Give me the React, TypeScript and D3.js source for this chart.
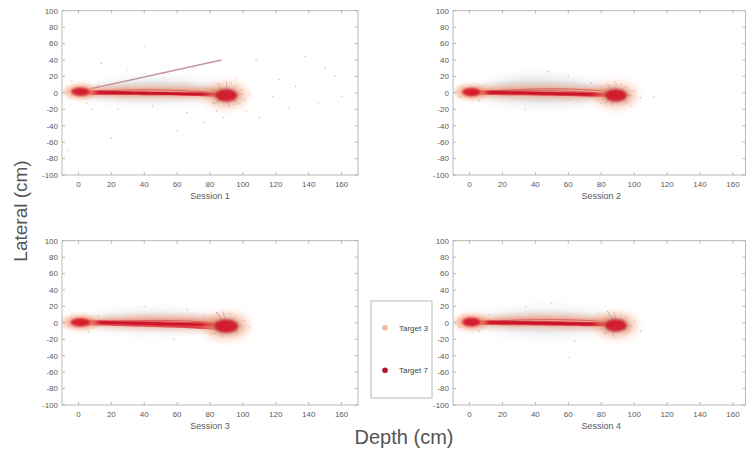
import React from "react";
import * as d3 from "d3";

const W = 746;
const H = 454;

const sessions = ["Session 1", "Session 2", "Session 3", "Session 4"];
const xTicks = [0, 20, 40, 60, 80, 100, 120, 140, 160];
const yTicks = [100, 80, 60, 40, 20, 0, -20, -40, -60, -80, -100];
const targets = ["Target 3", "Target 7"];
const targetColors = ["#f2b6a2", "#b3132d"];

// depth samples (cm) for the trajectory envelopes
const depthGrid = [0, 10, 20, 30, 40, 50, 60, 70, 80, 88];

// gray cloud (other trajectories), lateral bounds per session
const grayUpper = [
  [3, 9, 14, 17, 19, 19, 18, 15, 11, 5],
  [4, 11, 17, 21, 22, 21, 19, 16, 11, 6],
  [3, 9, 13, 16, 17, 17, 16, 14, 11, 5],
  [4, 10, 15, 18, 20, 20, 19, 16, 12, 6],
];
const grayLower = [
  [-3, -7, -10, -12, -13, -13, -12, -10, -8, -5],
  [-3, -8, -12, -15, -17, -17, -16, -13, -10, -6],
  [-3, -7, -10, -12, -13, -13, -12, -11, -9, -6],
  [-3, -9, -13, -16, -18, -18, -17, -15, -11, -6],
];

// Target 3 cloud (salmon)
const salmonUpper = [
  [5, 7, 9, 10, 10, 10, 10, 9, 8, 6],
  [5, 8, 10, 11, 11, 11, 10, 9, 8, 6],
  [5, 7, 9, 10, 11, 11, 11, 10, 9, 7],
  [5, 8, 10, 11, 12, 12, 11, 10, 9, 7],
];
const salmonLower = [
  [-4, -6, -7, -8, -8, -8, -8, -8, -8, -8],
  [-4, -6, -7, -8, -8, -9, -9, -9, -9, -8],
  [-4, -6, -7, -8, -9, -9, -10, -10, -11, -10],
  [-4, -6, -7, -8, -8, -9, -9, -9, -9, -8],
];

// Target 7 core band (dark red)
const redUpper = [
  [4, 3, 2.5, 2, 1.6, 1.2, 0.8, 0.4, 0, -0.5],
  [4, 3, 2.6, 2.2, 1.8, 1.4, 1, 0.6, 0.2, 0],
  [4.5, 3.4, 3, 2.6, 2.2, 1.8, 1.4, 1, 0.6, 0.4],
  [4, 3, 2.6, 2.2, 1.9, 1.6, 1.3, 1, 0.7, 0.5],
];
const redLower = [
  [-3, -2.5, -2.5, -2.6, -2.8, -3, -3.3, -3.6, -4, -4.5],
  [-3, -2.6, -2.8, -3, -3.3, -3.6, -4, -4.3, -4.7, -5],
  [-3.5, -3.2, -3.6, -4.2, -4.8, -5.4, -6, -6.8, -8, -8.5],
  [-3, -2.6, -2.8, -3, -3.2, -3.5, -3.8, -4.1, -4.4, -4.5],
];
const redMean = [
  [1, 0.6, 0.3, 0, -0.3, -0.6, -0.9, -1.2, -1.6, -2],
  [1, 0.6, 0.3, 0, -0.4, -0.8, -1.1, -1.5, -1.9, -2.2],
  [1, 0.4, 0, -0.4, -0.8, -1.2, -1.6, -2, -2.5, -3],
  [1, 0.6, 0.3, 0, -0.3, -0.6, -0.9, -1.2, -1.5, -1.8],
];

// start / end clusters: [depth, lateral, spreadDepth, spreadLateral]
const startCluster = [
  [1, 1.5, 5.5, 5],
  [1, 1, 5.5, 5],
  [1, 0.5, 6, 5],
  [1, 1, 5.5, 5.5],
];
const endCluster = [
  [90, -3, 6.5, 7.5],
  [89, -3, 6.5, 7.5],
  [90, -4, 7, 8],
  [89, -3, 6.5, 7.5],
];

// single outlying trajectory in session 1
const outlierDepth = [3, 87];
const outlierLateral = [3, 40];

// faint single samples scattered around the clouds
const specks: [number, number][][] = [
  [[5, -12], [12, 9], [-5, -6], [86, 11], [95, -14], [82, -12], [99, 4], [101, -8], [93, 12], [78, 6], [104, -2],
   [20, -55], [60, -46], [45, -16], [30, 28], [70, 30], [118, -4], [132, 8], [146, -12], [156, 20], [110, -30],
   [40, 56], [-6, -70], [88, -30], [102, -22], [24, -20], [66, -24], [150, 30], [138, 44], [84, -22], [96, 18],
   [-4, 14], [8, -20], [52, 24], [122, 16], [160, -4], [76, -36], [14, 36], [108, 40], [128, -18]],
  [[-4, 8], [6, -10], [84, 10], [95, -13], [100, 2], [92, 10], [80, -12], [104, -6], [112, -5], [98, -16],
   [88, 14], [74, 12], [34, -20], [60, 20], [48, 26], [-6, -5], [10, 10]],
  [[-4, 7], [6, -11], [84, 12], [96, -12], [101, 3], [92, 11], [80, -14], [104, -5], [88, -16], [76, 10],
   [40, 20], [58, -20], [-6, -4], [12, 9], [66, 16]],
  [[-4, 9], [6, -10], [84, 14], [95, -12], [100, 3], [92, 10], [82, -13], [104, -10], [88, -18], [78, 12],
   [50, 24], [64, -22], [-6, -5], [12, 10], [60, -42], [34, 20]],
];

// short spikes radiating from the end clusters: [depth, lateral]
const endSpikes: [number, number][][] = [
  [[84, 12], [96, 10], [82, -14], [98, -14], [90, 14], [100, -2], [80, 4], [92, -18]],
  [[84, 10], [95, 8], [82, -13], [97, -12], [89, 12], [99, -3], [86, -16]],
  [[84, 13], [96, 8], [82, -14], [98, -12], [88, 14], [100, -4], [86, -16]],
  [[84, 14], [96, 9], [82, -13], [98, -11], [88, 13], [99, -4], [87, -17]],
];

// hand-traced individual red trajectories (fan near the end)
const fanDepth = [0, 20, 40, 60, 80, 88];
const fanLateral = [
  [[1, 1, 0, -1, -3, -4], [1, 0, -1, -2, -4, -5], [1, 3, 4, 3, 1, -1]],
  [[1, 2, 3, 2, 0, -2], [1, 0, -1, -3, -4, -5], [1, 3, 5, 5, 3, 0]],
  [[1, 0, -2, -4, -7, -9], [1, 1, 0, -1, -3, -5], [1, 2, 3, 3, 1, -1]],
  [[1, 2, 2, 1, -1, -3], [1, 0, -1, -2, -3, -4], [1, 3, 4, 4, 2, 0]],
];

const panelBoxes = [
  { x0: 62, x1: 358, y0: 10.7, y1: 175, dmax: 170 },
  { x0: 453, x1: 745.5, y0: 10.7, y1: 175, dmax: 167.6 },
  { x0: 62, x1: 358, y0: 240.7, y1: 405, dmax: 170 },
  { x0: 453, x1: 745.5, y0: 240.7, y1: 405, dmax: 167.6 },
];

const FONT = "'Liberation Sans', Arial, Helvetica, sans-serif";
const AXIS = "#a8a8a8";
const LABEL = "#5a5a5a";

function Panel({ i }: { i: number }) {
  const b = panelBoxes[i];
  const x = d3.scaleLinear().domain([-10, b.dmax]).range([b.x0, b.x1]);
  const y = d3.scaleLinear().domain([-100, 100]).range([b.y1, b.y0]);
  const band = (up: number[], lo: number[]) =>
    d3
      .area<number>()
      .x((_, k) => x(depthGrid[k]))
      .y0((_, k) => y(lo[k]))
      .y1((_, k) => y(up[k]))
      .curve(d3.curveBasis)(depthGrid) || "";
  const shrink = (up: number[], lo: number[], f: number) => {
    const mid = up.map((u, k) => (u + lo[k]) / 2);
    return [up.map((u, k) => mid[k] + (u - mid[k]) * f), lo.map((l, k) => mid[k] + (l - mid[k]) * f)];
  };
  const line = d3
    .line<number>()
    .x((_, k) => x(depthGrid[k]))
    .y((d) => y(d))
    .curve(d3.curveBasis);
  const fanLine = d3
    .line<number>()
    .x((_, k) => x(fanDepth[k]))
    .y((d) => y(d))
    .curve(d3.curveBasis);
  const [gU2, gL2] = shrink(grayUpper[i], grayLower[i], 0.6);
  const [sU2, sL2] = shrink(salmonUpper[i], salmonLower[i], 0.55);
  const sx = (v: number) => Math.abs(x(v) - x(0));
  const sy = (v: number) => Math.abs(y(v) - y(0));
  const sc = startCluster[i];
  const ec = endCluster[i];
  const clipId = `clip${i}`;
  const grayTint = i === 1 ? "#7a7f86" : i === 0 ? "#8a8f96" : "#9aa8ba";
  return (
    <g>
      <defs>
        <clipPath id={clipId}>
          <rect x={b.x0} y={b.y0} width={b.x1 - b.x0} height={b.y1 - b.y0} />
        </clipPath>
      </defs>
      <rect x={b.x0} y={b.y0} width={b.x1 - b.x0} height={b.y1 - b.y0} fill="#fff" />
      <g clipPath={`url(#${clipId})`}>
        {/* gray cloud */}
        <path d={band(grayUpper[i], grayLower[i])} fill={grayTint} opacity={0.15} filter="url(#blur3)" />
        <path d={band(gU2, gL2)} fill={grayTint} opacity={0.15} filter="url(#blur2)" />
        {/* salmon cloud */}
        <path d={band(salmonUpper[i], salmonLower[i])} fill="#f7a98c" opacity={0.45} filter="url(#blur2)" />
        <path d={band(sU2, sL2)} fill="#ef8468" opacity={0.5} filter="url(#blur1)" />
        {/* fan trajectories */}
        {fanLateral[i].map((tr, k) => (
          <path key={k} d={fanLine(tr) || ""} fill="none" stroke="#c8323a" strokeWidth={1} opacity={0.6} />
        ))}
        {/* outlier */}
        {i === 0 && (
          <line
            x1={x(outlierDepth[0])}
            y1={y(outlierLateral[0])}
            x2={x(outlierDepth[1])}
            y2={y(outlierLateral[1])}
            stroke="#b98088"
            strokeWidth={1.4}
            opacity={0.85}
          />
        )}
        {/* red band */}
        <path d={band(redUpper[i], redLower[i])} fill="#dc2a34" opacity={0.75} filter="url(#blur05)" />
        <path d={line(redMean[i]) || ""} fill="none" stroke="#c8102a" strokeWidth={2.6} opacity={0.92} />
        {/* specks */}
        {specks[i].map((p, k) => (
          <circle key={k} cx={x(p[0])} cy={y(p[1])} r={0.7} fill={k % 3 === 0 ? "#d9584e" : "#6b6b6b"} opacity={0.45} />
        ))}
        {/* start cluster */}
        <ellipse cx={x(sc[0])} cy={y(sc[1])} rx={sx(sc[2] * 1.8)} ry={sy(sc[3] * 1.8)} fill="#f59a74" opacity={0.65} filter="url(#blur2)" />
        <ellipse cx={x(sc[0])} cy={y(sc[1])} rx={sx(sc[2])} ry={sy(sc[3])} fill="#d3142a" opacity={0.92} filter="url(#blur1)" />
        {/* end cluster */}
        {endSpikes[i].map((p, k) => (
          <line
            key={`s${k}`}
            x1={x(ec[0])}
            y1={y(ec[1])}
            x2={x(p[0])}
            y2={y(p[1])}
            stroke={k % 2 ? "#e0604a" : "#555"}
            strokeWidth={0.6}
            opacity={0.55}
          />
        ))}
        <ellipse cx={x(ec[0])} cy={y(ec[1])} rx={sx(ec[2] * 1.9)} ry={sy(ec[3] * 1.9)} fill="#f59a74" opacity={0.6} filter="url(#blur3)" />
        <ellipse cx={x(ec[0])} cy={y(ec[1])} rx={sx(ec[2] * 1.25)} ry={sy(ec[3] * 1.25)} fill="#7a4a52" opacity={0.3} filter="url(#blur2)" />
        <ellipse cx={x(ec[0])} cy={y(ec[1])} rx={sx(ec[2])} ry={sy(ec[3])} fill="#d3142a" opacity={0.92} filter="url(#blur1)" />
      </g>
      {/* frame */}
      <rect x={b.x0} y={b.y0} width={b.x1 - b.x0} height={b.y1 - b.y0} fill="none" stroke={AXIS} strokeWidth={0.8} />
      {xTicks.map((t) => (
        <g key={`xt${t}`}>
          <line x1={x(t)} x2={x(t)} y1={b.y1} y2={b.y1 - 3} stroke={AXIS} strokeWidth={0.8} />
          <line x1={x(t)} x2={x(t)} y1={b.y0} y2={b.y0 + 3} stroke={AXIS} strokeWidth={0.8} />
          <text x={x(t)} y={b.y1 + 12} textAnchor="middle" fontSize={8} fill={LABEL} fontFamily={FONT}>
            {t}
          </text>
        </g>
      ))}
      {yTicks.map((t) => (
        <g key={`yt${t}`}>
          <line x1={b.x0} x2={b.x0 + 3} y1={y(t)} y2={y(t)} stroke={AXIS} strokeWidth={0.8} />
          <line x1={b.x1} x2={b.x1 - 3} y1={y(t)} y2={y(t)} stroke={AXIS} strokeWidth={0.8} />
          <text x={b.x0 - 4} y={y(t)} dy="0.35em" textAnchor="end" fontSize={8} fill={LABEL} fontFamily={FONT}>
            {t}
          </text>
        </g>
      ))}
      <text x={x(80)} y={b.y1 + 24} textAnchor="middle" fontSize={9} fill={LABEL} fontFamily={FONT}>
        {sessions[i]}
      </text>
    </g>
  );
}

export default function App() {
  return (
    <svg
      width={W}
      height={H}
      viewBox={`0 0 ${W} ${H}`}
      style={{ position: "absolute", left: 0, top: 0, display: "block", background: "#fff" }}
    >
      <defs>
        <filter id="blur05" x="-20%" y="-50%" width="140%" height="200%">
          <feGaussianBlur stdDeviation={0.5} />
        </filter>
        <filter id="blur1" x="-50%" y="-50%" width="200%" height="200%">
          <feGaussianBlur stdDeviation={1.1} />
        </filter>
        <filter id="blur2" x="-50%" y="-50%" width="200%" height="200%">
          <feGaussianBlur stdDeviation={2.2} />
        </filter>
        <filter id="blur3" x="-50%" y="-50%" width="200%" height="200%">
          <feGaussianBlur stdDeviation={4} />
        </filter>
      </defs>
      <rect width={W} height={H} fill="#fff" />
      {sessions.map((_, i) => (
        <Panel key={i} i={i} />
      ))}
      {/* legend */}
      <rect x={371} y={301} width={61} height={97} fill="#fff" stroke={AXIS} strokeWidth={0.8} />
      {targets.map((t, k) => (
        <g key={t}>
          <circle cx={385} cy={327.7 + k * 42.6} r={2.8} fill={targetColors[k]} />
          <text x={399} y={327.7 + k * 42.6} dy="0.35em" fontSize={8} fill="#444" fontFamily={FONT}>
            {t}
          </text>
        </g>
      ))}
      <text
        transform="translate(27,211) rotate(-90)"
        textAnchor="middle"
        fontSize={19}
        fill="#555"
        fontFamily={FONT}
      >
        Lateral (cm)
      </text>
      <text x={404} y={444} textAnchor="middle" fontSize={20} fill="#555" fontFamily={FONT}>
        Depth (cm)
      </text>
    </svg>
  );
}
